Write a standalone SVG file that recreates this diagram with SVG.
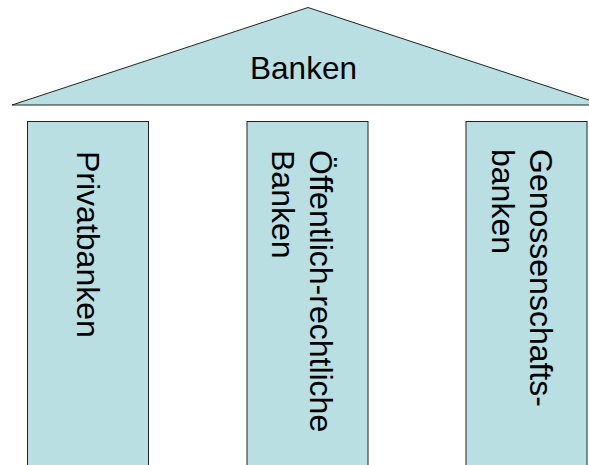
<svg xmlns="http://www.w3.org/2000/svg" width="589" height="465" viewBox="0 0 589 465">
<style>
.shape{fill:#B9DFE3;stroke:#222;stroke-width:1}
.t{font-family:"Liberation Sans",Arial,sans-serif;font-size:32px;fill:#000}
</style>
<rect width="589" height="465" fill="#fff"/>
<g id="roof">
<polygon class="shape" points="12,105 308,7.5 604,105"/>
<text class="t" x="303.5" y="79" text-anchor="middle" style="font-size:31.5px">Banken</text>
</g>
<g id="privatbanken">
<rect class="shape" x="27.5" y="121.5" width="121" height="360"/>
<text class="t" transform="translate(77,151) rotate(90)">Privatbanken</text>
</g>
<g id="oeffentlich">
<rect class="shape" x="247" y="121.5" width="121" height="360"/>
<text class="t" transform="translate(310,150) rotate(90)">Öffentlich-rechtliche</text>
<text class="t" transform="translate(272,150) rotate(90)">Banken</text>
</g>
<g id="genossenschaft">
<rect class="shape" x="466" y="121.5" width="121" height="360"/>
<text class="t" transform="translate(530,149) rotate(90)">Genossenschafts-</text>
<text class="t" transform="translate(492,149) rotate(90)">banken</text>
</g>
<g id="connectors"></g>
</svg>
